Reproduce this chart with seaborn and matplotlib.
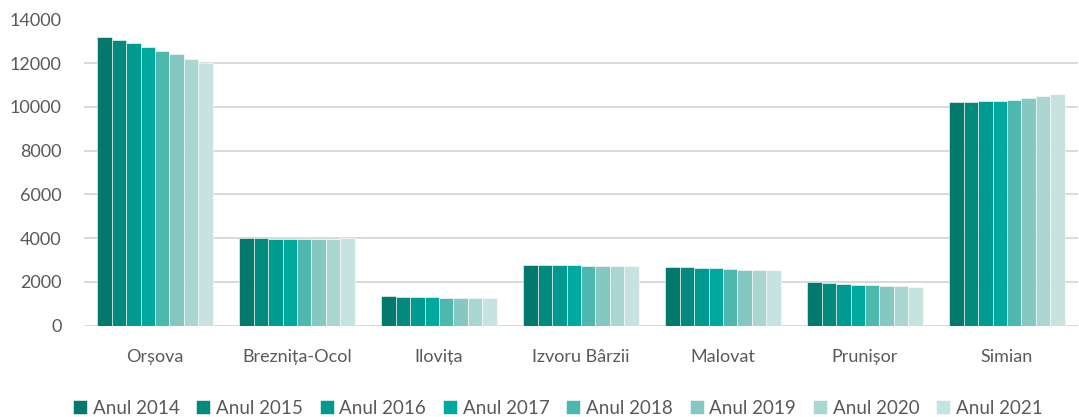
import numpy as np
import pandas as pd
import matplotlib
matplotlib.use("Agg")
import matplotlib.pyplot as plt
import seaborn as sns

# Data
localities = ["Orșova", "Breznița-Ocol", "Ilovița", "Izvoru Bârzii", "Malovat", "Prunișor", "Simian"]
years = ["Anul 2014", "Anul 2015", "Anul 2016", "Anul 2017",
         "Anul 2018", "Anul 2019", "Anul 2020", "Anul 2021"]

orsova = [13200, 13060, 12920, 12740, 12570, 12410, 12200, 12020]
breznita = [3990, 4000, 3980, 3970, 3950, 3980, 3980, 3990]
ilovita = [1340, 1320, 1300, 1290, 1280, 1270, 1260, 1250]
izvoru = [2750, 2760, 2760, 2760, 2740, 2730, 2720, 2700]
malovat = [2690, 2670, 2620, 2620, 2590, 2560, 2550, 2550]
prunisor = [1980, 1950, 1900, 1870, 1860, 1820, 1790, 1750]
simian = [10210, 10240, 10255, 10285, 10315, 10420, 10485, 10590]

colors = ["#03786C", "#028A7E", "#009A90", "#00A99D",
          "#4FB8AE", "#84C8C1", "#A9D6D1", "#C6E3DF"]

series = [orsova, breznita, ilovita, izvoru, malovat, prunisor, simian]
rows = []
for loc, vals in zip(localities, series):
    for yr, v in zip(years, vals):
        rows.append({"loc": loc, "year": yr, "value": v})
df = pd.DataFrame(rows)

sns.set_theme(style="white")
plt.rcParams['font.family'] = ['Lato', 'DejaVu Sans']

fig = plt.figure(figsize=(10.79, 4.17), dpi=100)
ax = fig.add_axes([84 / 1079, 91.5 / 417, 994 / 1079, 306 / 417])

sns.barplot(data=df, x="loc", y="value", hue="year", order=localities,
            hue_order=years, palette=colors, saturation=1, ax=ax, width=0.81,
            edgecolor="white", linewidth=0.4, legend=True)

ax.set_ylim(0, 14000)
ax.set_xlim(-0.5, 6.5)
ax.set_yticks(np.arange(0, 14001, 2000))
ax.yaxis.grid(True, color="#D9D9D9", linewidth=1.4)
ax.set_axisbelow(True)
for s in ax.spines.values():
    s.set_visible(False)
ax.set_xlabel("")
ax.set_ylabel("")
ax.tick_params(axis="y", labelsize=13, colors="#595959", length=0, pad=16)
ax.tick_params(axis="x", labelsize=13, colors="#595959", length=0, pad=17)

handles, labels = ax.get_legend_handles_labels()
ax.get_legend().remove()
fig.legend(handles, labels, loc="lower center", bbox_to_anchor=(0.517, -0.04),
           ncol=8, frameon=False, fontsize=13.5, handlelength=0.75,
           handleheight=0.75, handletextpad=0.3, columnspacing=0.9,
           labelcolor="#595959")

fig.savefig("out.png", dpi=100)
